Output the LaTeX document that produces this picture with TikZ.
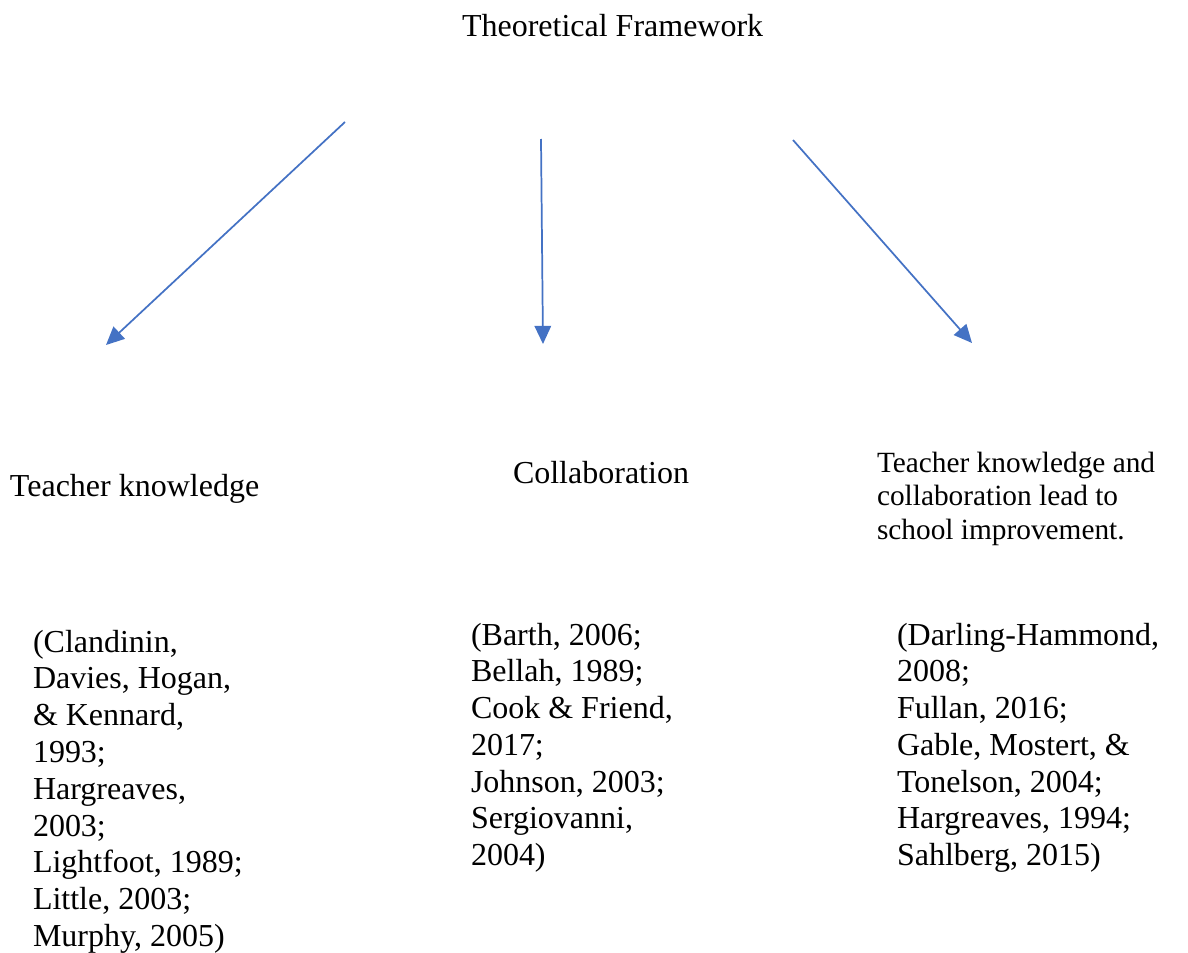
\documentclass[tikz,border=0pt]{standalone}
\usepackage{fontspec}
\setmainfont{Liberation Serif}
\newfontfamily\timesfont{Liberation Serif}
\usetikzlibrary{arrows.meta}
\definecolor{arrowblue}{HTML}{4472C4}
% stacked lines whose baseline is that of the first line
\newcommand{\stacklines}[1]{\begin{tabular}[t]{@{}l@{}}#1\end{tabular}}
\begin{document}
\begin{tikzpicture}[x=0.375pt,y=-0.375pt,
  txt/.style={anchor=base west,inner sep=0pt,outer sep=0pt,
    font=\timesfont\fontsize{12pt}{13.8pt}\selectfont},
  smalltxt/.style={txt,font=\timesfont\fontsize{11pt}{12.7pt}\selectfont},
  link/.style={draw=arrowblue,line width=0.65pt,
    -{Triangle[length=6.8pt,width=6.2pt,fill=arrowblue]}}]
\useasboundingbox (0,0) rectangle (1188,953);

% headings
\node[txt] (title) at (462,36) {Theoretical Framework};
\node[txt] (knowledge) at (10,496) {Teacher knowledge};
\node[txt] (collab) at (513,483) {Collaboration};
\node[smalltxt] (improve) at (877,472) {\stacklines{Teacher knowledge and\\collaboration lead to\\school improvement.}};

% citations
\node[txt] (refA) at (33,652) {\stacklines{(Clandinin,\\Davies, Hogan,\\\& Kennard,\\1993;\\Hargreaves,\\2003;\\Lightfoot, 1989;\\Little, 2003;\\Murphy, 2005)}};
\node[txt] (refB) at (471,645) {\stacklines{(Barth, 2006;\\Bellah, 1989;\\Cook \& Friend,\\2017;\\Johnson, 2003;\\Sergiovanni,\\2004)}};
\node[txt] (refC) at (897,645) {\stacklines{(Darling-Hammond,\\2008;\\Fullan, 2016;\\Gable, Mostert, \&\\Tonelson, 2004;\\Hargreaves, 1994;\\Sahlberg, 2015)}};

% arrow ends
\coordinate (s1) at (345,122);
\coordinate (e1) at (106,345);
\coordinate (s2) at (541,139);
\coordinate (e2) at (543,344);
\coordinate (s3) at (793,140);
\coordinate (e3) at (972,343);

\draw[link] (s1) -- (e1);
\draw[link] (s2) -- (e2);
\draw[link] (s3) -- (e3);
\end{tikzpicture}
\end{document}
